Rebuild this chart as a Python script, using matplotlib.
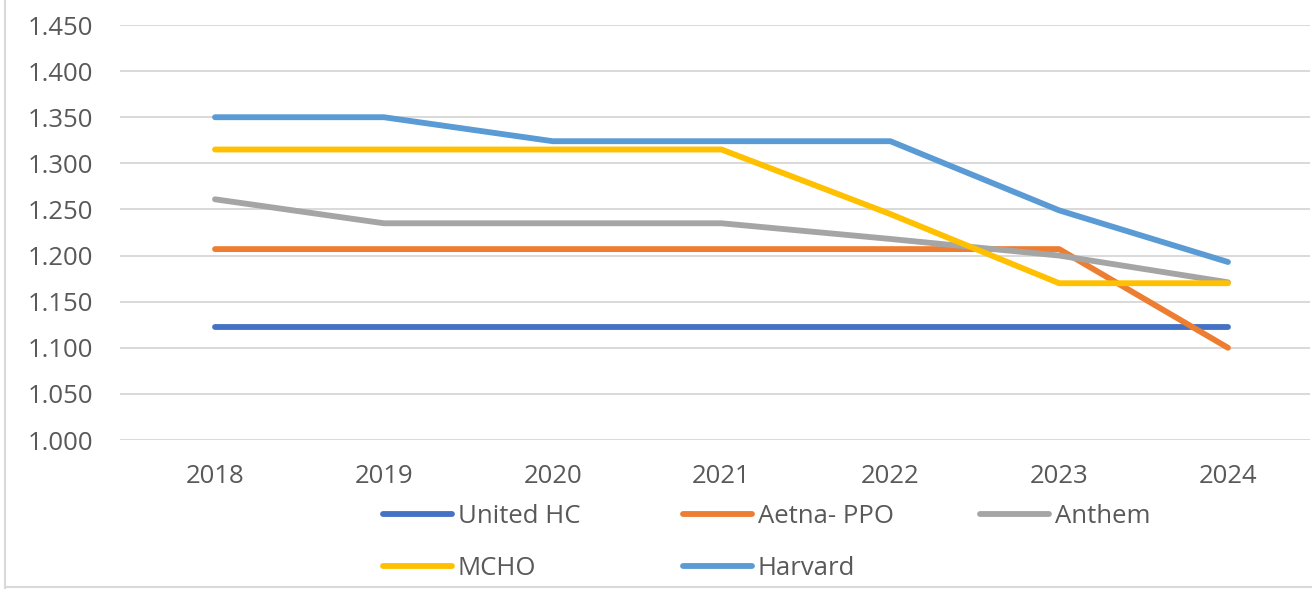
import matplotlib
matplotlib.use("Agg")
import matplotlib.pyplot as plt
from matplotlib.lines import Line2D

years = ["2018", "2019", "2020", "2021", "2022", "2023", "2024"]
united_hc = [1.123, 1.123, 1.123, 1.123, 1.123, 1.123, 1.123]
aetna_ppo = [1.207, 1.207, 1.207, 1.207, 1.207, 1.207, 1.100]
anthem = [1.261, 1.235, 1.235, 1.235, 1.218, 1.200, 1.171]
mcho = [1.315, 1.315, 1.315, 1.315, 1.245, 1.170, 1.170]
harvard = [1.350, 1.350, 1.324, 1.324, 1.324, 1.249, 1.193]

series_names = ["United HC", "Aetna- PPO", "Anthem", "MCHO", "Harvard"]
series_values = [united_hc, aetna_ppo, anthem, mcho, harvard]
colors = ["#4472C4", "#ED7D31", "#A5A5A5", "#FFC000", "#5B9BD5"]

y_ticks = [1.000, 1.050, 1.100, 1.150, 1.200, 1.250, 1.300, 1.350, 1.400, 1.450]

plt.rcParams['font.family'] = ['Open Sans', 'DejaVu Sans']
text_color = "#595959"

W, H = 1312, 589
fig = plt.figure(figsize=(W / 100, H / 100), dpi=100)
ax = fig.add_axes([120 / W, (H - 440) / H, 1190 / W, 415 / H])

x = list(range(len(years)))
lines = []
for name, vals, c in zip(series_names, series_values, colors):
    ln, = ax.plot(x, vals, color=c, lw=4.2, solid_capstyle='round',
                  solid_joinstyle='round', label=name, zorder=3)
    lines.append(ln)

ax.set_ylim(1.0, 1.45)
ax.set_xlim(-95 / 168.8, 6 + 82 / 168.8)
ax.set_yticks(y_ticks)
ax.set_yticklabels([f"{v:.3f}" for v in y_ticks])
ax.set_xticks(x)
ax.set_xticklabels(years)
ax.grid(axis='y', color="#D9D9D9", lw=1.4)
ax.set_axisbelow(True)
for s in ax.spines.values():
    s.set_visible(False)
ax.tick_params(axis='both', length=0, labelsize=18.5, labelcolor=text_color)
ax.tick_params(axis='y', pad=19)
ax.tick_params(axis='x', pad=17)

# legend: three columns placed like the reference
cols = [[0, 3], [1, 4], [2]]
col_x = [383, 683, 980]
for idxs, cx in zip(cols, col_x):
    fig.legend([lines[i] for i in idxs], [series_names[i] for i in idxs],
               loc='upper left', bbox_to_anchor=(cx / W, (H - 504) / H),
               frameon=False, fontsize=18.5, labelcolor=text_color,
               handlelength=2.7, handletextpad=0.2, labelspacing=1.05,
               borderpad=0, borderaxespad=0)

# outer frame lines
fig.add_artist(Line2D([5 / W, 5 / W], [0, 1], color="#D9D9D9", lw=1.5))
fig.add_artist(Line2D([5 / W, 1], [2 / H, 2 / H], color="#D9D9D9", lw=1.5))

fig.savefig("out.png", dpi=100)
